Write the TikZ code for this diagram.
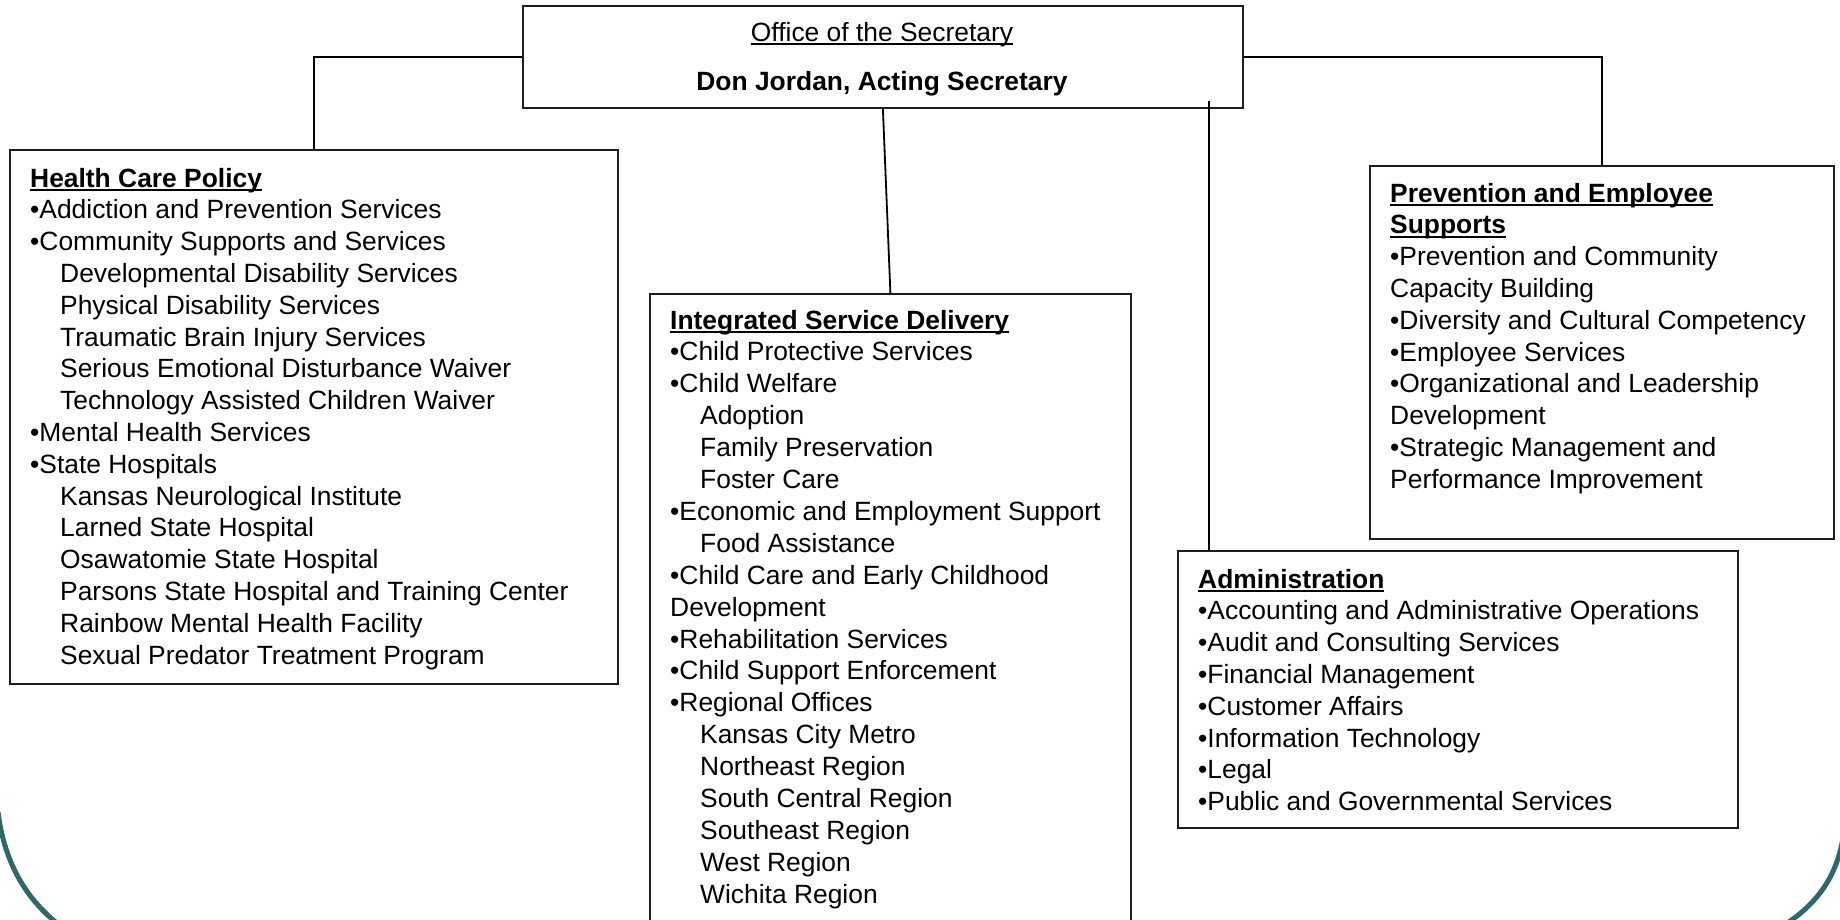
\documentclass[tikz,border=0pt]{standalone}
\usepackage{fontspec}
\setmainfont{Liberation Sans}
\definecolor{frameteal}{RGB}{47,104,104}
\definecolor{boxline}{RGB}{30,30,30}
\newcommand\myul[1]{\setbox0\hbox{#1}\rlap{\rule[-0.17em]{\wd0}{0.09em}}\box0}
\begin{document}
\begin{tikzpicture}[x=1pt,y=-1pt,
  box/.style={draw=boxline, line width=1.8pt, rectangle, inner sep=0pt, anchor=north west},
  conn/.style={draw=black, line width=1.8pt},
  ln/.style={anchor=base west, inner sep=0pt, font=\fontsize{26.4}{31.8}\selectfont},
  hd/.style={ln, font=\fontsize{26.4}{31.8}\selectfont\bfseries},
  ctr/.style={anchor=base, inner sep=0pt, font=\fontsize{26.4}{31.8}\selectfont}]
\useasboundingbox (0,0) rectangle (1840,919);
\clip (0,0) rectangle (1840,919);
\fill[white] (0,0) rectangle (1840,919);

% slide frame corners
\draw[frameteal, line width=5pt] (-2,812) .. controls (4,860) and (24,897) .. (58,924);
\draw[frameteal, line width=5pt] (1843,838) .. controls (1836,878) and (1817,903) .. (1786,924);

% boxes
\node[box, minimum width=720, minimum height=102] (top) at (522,5) {};
\node[box, minimum width=608, minimum height=534] (hcp) at (9,149) {};
\node[box, minimum width=481, minimum height=660] (isd) at (649,293) {};
\node[box, minimum width=464, minimum height=373] (pes) at (1369,165) {};
\node[box, minimum width=560, minimum height=277] (adm) at (1177,550) {};

% connectors
\draw[conn] (top.west) -| (hcp.north);
\draw[conn] (top.east) -| (pes.north);
\draw[conn] (top.south) -- (isd.north);
\coordinate (admsrc) at (1209,101);
\draw[conn] (admsrc) -- (admsrc |- adm.north);

% top box text
\node[ctr] (office) at (882,41) {\myul{Office of the Secretary}};
\node[ctr, font=\fontsize{26.4}{31.8}\selectfont\bfseries] (sec) at (882,90) {Don Jordan, Acting Secretary};

% Health Care Policy
\node[hd] (hcph) at (30,187) {\myul{Health Care Policy}};
\foreach [count=\i from 1] \d/\t in {
  0/{•Addiction and Prevention Services},
  0/{•Community Supports and Services},
  30/{Developmental Disability Services},
  30/{Physical Disability Services},
  30/{Traumatic Brain Injury Services},
  30/{Serious Emotional Disturbance Waiver},
  30/{Technology Assisted Children Waiver},
  0/{•Mental Health Services},
  0/{•State Hospitals},
  30/{Kansas Neurological Institute},
  30/{Larned State Hospital},
  30/{Osawatomie State Hospital},
  30/{Parsons State Hospital and Training Center},
  30/{Rainbow Mental Health Facility},
  30/{Sexual Predator Treatment Program}}
  \node[ln] (hcp\i) at (30+\d,187+31.8*\i) {\t};

% Integrated Service Delivery
\node[hd] (isdh) at (670,329) {\myul{Integrated Service Delivery}};
\foreach [count=\i from 1] \d/\t in {
  0/{•Child Protective Services},
  0/{•Child Welfare},
  30/{Adoption},
  30/{Family Preservation},
  30/{Foster Care},
  0/{•Economic and Employment Support},
  30/{Food Assistance},
  0/{•Child Care and Early Childhood},
  0/{Development},
  0/{•Rehabilitation Services},
  0/{•Child Support Enforcement},
  0/{•Regional Offices},
  30/{Kansas City Metro},
  30/{Northeast Region},
  30/{South Central Region},
  30/{Southeast Region},
  30/{West Region},
  30/{Wichita Region}}
  \node[ln] (isd\i) at (670+\d,329+31.9*\i) {\t};

% Prevention and Employee Supports
\node[hd] (pesh1) at (1390,202) {\myul{Prevention and Employee}};
\node[hd] (pesh2) at (1390,233.8) {\myul{Supports}};
\foreach [count=\i from 2] \t in {
  {•Prevention and Community},
  {Capacity Building},
  {•Diversity and Cultural Competency},
  {•Employee Services},
  {•Organizational and Leadership},
  {Development},
  {•Strategic Management and},
  {Performance Improvement}}
  \node[ln] (pes\i) at (1390,202+31.8*\i) {\t};

% Administration
\node[hd] (admh) at (1198,588) {\myul{Administration}};
\foreach [count=\i from 1] \t in {
  {•Accounting and Administrative Operations},
  {•Audit and Consulting Services},
  {•Financial Management},
  {•Customer Affairs},
  {•Information Technology},
  {•Legal},
  {•Public and Governmental Services}}
  \node[ln] (adm\i) at (1198,588+31.8*\i) {\t};
\end{tikzpicture}
\end{document}
